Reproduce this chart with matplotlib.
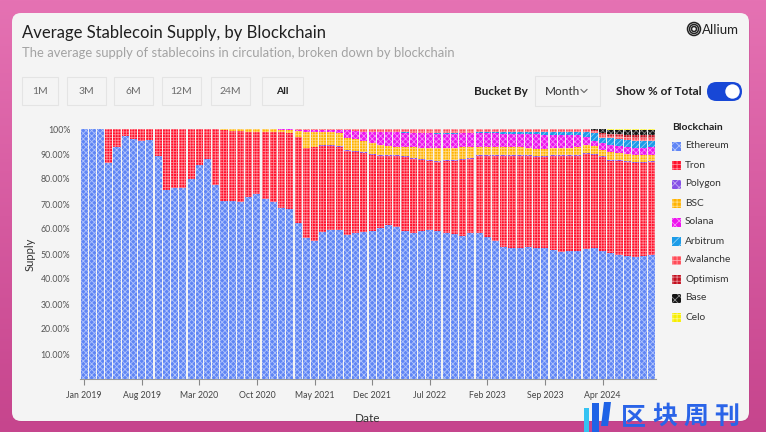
import matplotlib
matplotlib.use("Agg")
import matplotlib.pyplot as plt
import numpy as np
import pandas as pd
from matplotlib.patches import FancyBboxPatch, Rectangle, Circle, Polygon
from matplotlib.colors import LinearSegmentedColormap

# ---------------- data (share of total supply, %) ----------------
months = pd.date_range("2019-01-01", periods=70, freq="MS")
tick_labels = ["Jan 2019", "Aug 2019", "Mar 2020", "Oct 2020", "May 2021",
               "Dec 2021", "Jul 2022", "Feb 2023", "Sep 2023", "Apr 2024"]
chains = ["Ethereum", "Tron", "Polygon", "BSC", "Solana", "Arbitrum",
          "Avalanche", "Optimism", "Base", "Celo"]

ethereum = [100, 100, 100, 86.4, 92.9, 97.1, 96.0, 95.1, 95.6, 89.1, 75.7, 76.3, 76.5, 80.0, 85.7, 88.0, 77.5,
            71.1, 71.1, 70.9, 72.7, 74.0, 72.0, 70.7, 68.4, 67.9, 62.4, 56.4, 55.2, 58.9, 59.6, 59.7, 57.7, 58.3, 58.9, 59.3,
            60.3, 61.6, 60.7, 59.1, 58.5, 59.1, 59.7, 59.1, 58.4, 58.0, 57.3, 58.4, 58.4, 56.7, 55.3, 52.9, 52.3, 52.4,
            52.7, 52.4, 52.3, 51.3, 50.5, 50.7, 50.9, 51.6, 52.4, 51.3, 50.3, 49.6, 49.1, 48.9, 49.3, 49.6]
tron = [0, 0, 0, 13.6, 7.1, 2.9, 4.0, 4.9, 4.4, 10.9, 24.3, 23.7, 23.5, 20.0, 14.3, 12.0, 22.5,
        28.5, 28.2, 28.3, 26.3, 25.0, 27.0, 28.3, 30.6, 30.6, 34.3, 36.0, 37.5, 34.4, 33.5, 33.0, 33.6, 32.6, 31.6, 30.3,
        29.0, 27.5, 28.4, 29.6, 29.5, 28.5, 27.4, 27.6, 28.7, 29.3, 30.3, 29.7, 30.7, 32.5, 33.9, 36.3, 37.0, 36.9,
        36.4, 36.6, 36.7, 37.4, 38.0, 37.8, 37.8, 37.6, 37.2, 37.4, 37.0, 37.5, 37.7, 37.6, 37.1, 37.1]
polygon = [0, 0, 0, 0, 0, 0, 0, 0, 0, 0, 0, 0, 0, 0, 0, 0, 0,
           0, 0, 0, 0, 0, 0, 0, 0, 0, 0, 0.2, 0.3, 0.4, 0.4, 0.4, 0.4, 0.4, 0.4, 0.4,
           0.4, 0.4, 0.4, 0.4, 0.5, 0.5, 0.5, 0.5, 0.5, 0.5, 0.5, 0.5, 0.4, 0.4, 0.4, 0.4, 0.4, 0.4,
           0.4, 0.4, 0.4, 0.4, 0.4, 0.4, 0.4, 0.5, 0.5, 0.5, 0.5, 0.5, 0.5, 0.5, 0.5, 0.5]
bsc = [0, 0, 0, 0, 0, 0, 0, 0, 0, 0, 0, 0, 0, 0, 0, 0, 0,
       0.4, 0.7, 0.8, 1.0, 1.0, 0.9, 0.9, 0.8, 1.2, 2.6, 6.1, 5.7, 5.3, 5.5, 5.2, 4.7, 4.7, 4.4, 4.3,
       4.0, 3.8, 3.4, 3.8, 4.2, 4.3, 4.8, 5.1, 4.8, 4.6, 4.6, 4.1, 3.4, 3.3, 3.3, 3.3, 3.2, 3.0,
       2.9, 2.7, 2.7, 2.8, 2.8, 2.7, 2.9, 3.2, 3.2, 2.4, 2.9, 2.7, 2.7, 2.7, 2.7, 2.5]
solana = [0, 0, 0, 0, 0, 0, 0, 0, 0, 0, 0, 0, 0, 0, 0, 0, 0,
          0, 0, 0, 0, 0, 0.1, 0.1, 0.2, 0.3, 0.5, 0.9, 0.8, 0.6, 0.6, 1.3, 3.1, 3.4, 3.7, 4.4,
          5.0, 5.4, 5.8, 5.7, 5.7, 5.9, 5.9, 5.9, 5.8, 5.8, 5.6, 5.6, 5.5, 5.5, 5.4, 5.3, 5.2, 5.4,
          5.6, 5.8, 5.6, 5.4, 5.2, 5.3, 4.9, 3.0, 2.0, 2.7, 3.0, 3.0, 2.7, 2.7, 2.8, 3.0]
arbitrum = [0, 0, 0, 0, 0, 0, 0, 0, 0, 0, 0, 0, 0, 0, 0, 0, 0,
            0, 0, 0, 0, 0, 0, 0, 0, 0, 0, 0, 0, 0, 0, 0, 0, 0, 0, 0,
            0, 0, 0, 0.1, 0.2, 0.3, 0.3, 0.4, 0.4, 0.4, 0.3, 0.3, 0.3, 0.3, 0.4, 0.5, 0.6, 0.6,
            0.7, 0.8, 1.0, 1.0, 1.1, 1.1, 1.1, 2.0, 3.0, 2.1, 2.7, 2.7, 2.9, 2.9, 2.9, 2.6]
avalanche = [0, 0, 0, 0, 0, 0, 0, 0, 0, 0, 0, 0, 0, 0, 0, 0, 0,
             0, 0, 0, 0, 0, 0, 0, 0, 0, 0.2, 0.4, 0.5, 0.4, 0.4, 0.4, 0.5, 0.6, 1.0, 1.3,
             1.3, 1.3, 1.3, 1.3, 1.4, 1.4, 1.4, 1.4, 1.4, 1.4, 1.4, 1.4, 1.3, 1.3, 1.3, 1.3, 1.3, 1.3,
             1.3, 1.3, 1.3, 1.3, 1.3, 1.3, 1.3, 1.2, 1.0, 1.2, 1.0, 1.1, 1.2, 1.3, 1.3, 1.3]
optimism = [0, 0, 0, 0, 0, 0, 0, 0, 0, 0, 0, 0, 0, 0, 0, 0, 0,
            0, 0, 0, 0, 0, 0, 0, 0, 0, 0, 0, 0, 0, 0, 0, 0, 0, 0, 0,
            0, 0, 0, 0, 0, 0, 0, 0, 0, 0, 0, 0, 0, 0, 0, 0, 0, 0,
            0, 0, 0, 0, 0, 0, 0, 0, 0.3, 0.8, 0.8, 0.8, 0.9, 1.0, 1.0, 1.0]
base = [0, 0, 0, 0, 0, 0, 0, 0, 0, 0, 0, 0, 0, 0, 0, 0, 0,
        0, 0, 0, 0, 0, 0, 0, 0, 0, 0, 0, 0, 0, 0, 0, 0, 0, 0, 0,
        0, 0, 0, 0, 0, 0, 0, 0, 0, 0, 0, 0, 0, 0, 0, 0, 0, 0,
        0, 0, 0, 0, 0, 0, 0, 0, 0.4, 1.5, 1.6, 1.9, 2.1, 2.2, 2.2, 2.2]
celo = [0, 0, 0, 0, 0, 0, 0, 0, 0, 0, 0, 0, 0, 0, 0, 0, 0,
        0, 0, 0, 0, 0, 0, 0, 0, 0, 0, 0, 0, 0, 0, 0, 0, 0, 0, 0,
        0, 0, 0, 0, 0, 0, 0, 0, 0, 0, 0, 0, 0, 0, 0, 0, 0, 0,
        0, 0, 0, 0, 0, 0, 0, 0, 0, 0.1, 0.2, 0.2, 0.2, 0.2, 0.2, 0.2]

series = [ethereum, tron, polygon, bsc, solana, arbitrum, avalanche, optimism, base, celo]

# ---------------- style ----------------
colors = ["#5f85f5", "#ff0f2a", "#8650e6", "#ffb300", "#ee12ee", "#1c9ce8",
          "#ff4b57", "#c30f1e", "#141414", "#f7ee00"]
hatches = ["xxxxxx", "++++++", "xxxxxx", "++++++", "xxxxxx", "//////",
           "++++++", "++++++", "xxxxxx", "++++++"]
plt.rcParams["hatch.linewidth"] = 0.6
plt.rcParams["font.family"] = ["Lato", "DejaVu Sans"]

W, H = 766, 432
fig = plt.figure(figsize=(W / 100, H / 100), dpi=100)

bg = fig.add_axes([0, 0, 1, 1])
bg.set_axis_off()
cmap = LinearSegmentedColormap.from_list("pk", ["#e572b3", "#d65aa0", "#c6458d"])
bg.imshow(np.linspace(0, 1, 256).reshape(-1, 1), aspect="auto", cmap=cmap,
          extent=[0, W, H, 0], zorder=0)
bg.set_xlim(0, W)
bg.set_ylim(H, 0)
# card shadow + card
bg.add_patch(FancyBboxPatch((13, 15), 737, 407, boxstyle="round,pad=0,rounding_size=9",
                            fc="#b03c80", ec="none", alpha=0.25, zorder=1))
bg.add_patch(FancyBboxPatch((12, 13), 737, 408, boxstyle="round,pad=0,rounding_size=9",
                            fc="#f4f4f4", ec="none", zorder=2))

# header texts
bg.text(22, 33, "Average Stablecoin Supply, by Blockchain", fontsize=12,
        color="#1f1f1f", va="center", ha="left", zorder=5)
bg.text(22, 53, "The average supply of stablecoins in circulation, broken down by blockchain",
        fontsize=9.4, color="#a3a3a3", va="center", ha="left", zorder=5)

# Allium logo
for r in [6.5, 4.5, 2.5]:
    bg.add_patch(Circle((694, 29), r, fc="none", ec="#222222", lw=1.1, zorder=5))
bg.text(702, 29.5, "Allium", fontsize=9.5, color="#222222", va="center", ha="left", zorder=5)

# range buttons
buttons = [("1M", 22, 36), ("3M", 67, 39), ("6M", 114, 39), ("12M", 162, 39),
           ("24M", 211, 39), ("All", 262, 41)]
for lab, x0, w in buttons:
    bg.add_patch(Rectangle((x0, 77), w, 28, fc="#f4f4f4", ec="#e4e4e4", lw=0.8, zorder=4))
    bg.text(x0 + w / 2, 91.5, lab, fontsize=7.5, ha="center", va="center",
            color="#222222" if lab == "All" else "#6b6b6b",
            fontweight="bold" if lab == "All" else "normal", zorder=5)

bg.text(528, 91.5, "Bucket By", fontsize=8.5, fontweight="bold", ha="right", va="center",
        color="#222222", zorder=5)
bg.add_patch(Rectangle((535, 76), 65, 30, fc="#f4f4f4", ec="#e4e4e4", lw=0.8, zorder=4))
bg.text(562, 91.5, "Month", fontsize=8.5, ha="center", va="center", color="#333333", zorder=5)
bg.plot([581, 584, 587], [89.5, 92.5, 89.5], color="#666666", lw=0.8, zorder=5)
bg.text(702, 91.5, "Show % of Total", fontsize=8.5, fontweight="bold", ha="right",
        va="center", color="#222222", zorder=5)
bg.add_patch(FancyBboxPatch((707, 82), 35, 19, boxstyle="round,pad=0,rounding_size=9.5",
                            fc="#1747d6", ec="none", zorder=4))
bg.add_patch(Circle((732.5, 91.5), 7.2, fc="white", ec="none", zorder=5))

# ---------------- chart ----------------
ax = fig.add_axes([80 / W, 1 - 379 / H, 576 / W, 250 / H])
ax.set_facecolor("none")
data = np.array(series, dtype=float)
data = data / data.sum(axis=0) * 100.0
x = np.arange(len(months))
bottom = np.zeros(len(months))
for name, vals, col, hat in zip(chains, data, colors, hatches):
    ax.bar(x, vals, bottom=bottom, width=0.86, color=col, hatch=hat,
           edgecolor=(1, 1, 1, 0.5), linewidth=0, label=name, zorder=3)
    bottom += vals

ax.set_xlim(-0.5, len(months) - 0.5)
ax.set_ylim(0, 100)
ax.set_xticks(x[::7])
ax.set_xticklabels(tick_labels, fontsize=6.3, color="#444444")
yt = [10, 20, 30, 40, 50, 60, 70, 80, 90, 100]
ax.set_yticks(yt)
ax.set_yticklabels([f"{v}.00%" if v < 100 else "100%" for v in yt], fontsize=6.3, color="#555555")
ax.tick_params(axis="y", length=0, pad=7)
ax.tick_params(axis="x", length=4, width=0.8, color="#888888", pad=5)
for s in ["top", "right", "left"]:
    ax.spines[s].set_visible(False)
ax.spines["bottom"].set_color("#9a9a9a")
ax.spines["bottom"].set_linewidth(0.8)
ax.set_ylabel("Supply", fontsize=8, color="#333333", labelpad=4)
ax.set_xlabel("Date", fontsize=8.5, color="#333333", labelpad=9)

# legend (drawn manually to match layout)
bg.text(672, 127, "Blockchain", fontsize=7.5, fontweight="bold", color="#222222",
        va="center", ha="left", zorder=5)
for k, (name, col, hat) in enumerate(zip(chains, colors, hatches)):
    yc = 146 + 19 * k
    bg.add_patch(Rectangle((672, yc - 4.5), 9, 9, fc=col, hatch=hat[:4],
                           ec=(1, 1, 1, 0.5), lw=0, zorder=5))
    bg.text(685, yc, name, fontsize=7.3, color="#333333", va="center", ha="left", zorder=5)

# watermark
bg.add_patch(Rectangle((584, 408), 5, 24, fc="#35c3f2", ec="none", zorder=6))
bg.add_patch(Rectangle((592, 403), 7, 29, fc="#1f63e6", ec="none", zorder=6))
bg.add_patch(Polygon([(604, 402), (611, 402), (608, 426), (601, 426)], closed=True,
                     fc="#1f63e6", ec="none", zorder=6))
for i, ch in enumerate("区块周刊"):
    bg.text(621 + 31 * i, 417, ch, fontsize=18, fontweight="bold", color="#2a64e8",
            family=["Noto Sans CJK SC", "DejaVu Sans"], va="center", ha="left", zorder=6)

fig.savefig("out.png", dpi=100)
